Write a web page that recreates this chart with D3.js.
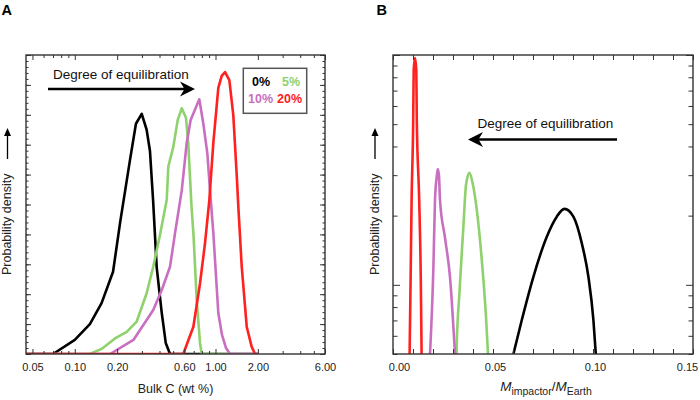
<!DOCTYPE html>
<html><head><meta charset="utf-8">
<script src="https://cdn.jsdelivr.net/npm/d3@7"></script>
<style>body{margin:0;background:#fff} svg{display:block;font-family:"Liberation Sans",Arial,Helvetica,sans-serif}</style>
</head><body><svg id="c" width="700" height="400"></svg>
<script>
// ---------- data ----------
const seriesNames = ["0%", "5%", "10%", "20%"];
const seriesColors = ["#000000", "#8fd16c", "#c96ec0", "#ff2020"];

// Panel A: Bulk C (wt %) vs probability density
const xTicksA = [0.05, 0.10, 0.20, 0.60, 1.00, 2.00, 6.00];
const xTickLabelsA = ["0.05", "0.10", "0.20", "0.60", "1.00", "2.00", "6.00"];
const bulkC_0 = [[0.045,0],[0.070,0],[0.100,0.47],[0.128,1.0],[0.155,1.7],[0.187,2.75],[0.210,4.4],[0.247,6.5],[0.272,7.7],[0.299,8.03],[0.324,7.5],[0.342,6.8],[0.360,5.15],[0.382,2.9],[0.415,1.37],[0.443,0.37],[0.475,0],[2.0,0]];
const bulkC_5 = [[0.045,0],[0.128,0],[0.155,0.17],[0.193,0.52],[0.234,0.74],[0.275,1.08],[0.324,2.03],[0.361,2.92],[0.403,3.98],[0.450,5.15],[0.462,6.27],[0.501,6.92],[0.539,7.83],[0.576,8.22],[0.617,7.89],[0.641,7.01],[0.675,4.95],[0.698,3.97],[0.735,1.8],[0.776,0.37],[0.798,0],[2.0,0]];
const bulkC_10 = [[0.045,0],[0.178,0],[0.261,0.47],[0.361,1.47],[0.415,2.14],[0.475,2.92],[0.516,4.05],[0.576,5.48],[0.624,7.05],[0.666,7.83],[0.767,8.52],[0.819,7.71],[0.875,6.71],[0.914,5.48],[0.965,4.05],[1.047,1.37],[1.112,0.64],[1.188,0.2],[1.268,0],[2.0,0]];
const bulkC_20 = [[0.045,0],[0.590,0],[0.696,0.91],[0.776,2.36],[0.842,3.70],[0.904,5.15],[0.965,7.06],[1.047,8.9],[1.107,9.3],[1.169,9.43],[1.254,9.16],[1.338,7.99],[1.415,5.99],[1.457,4.82],[1.536,2.92],[1.667,0.91],[1.808,0.24],[1.909,0],[2.0,0]];

// Panel B: M_impactor / M_Earth vs probability density (log)
const xTicksB = [0.00, 0.05, 0.10, 0.15];
const mass_0 = [[0.0602,0.5],[0.0644,0.703],[0.0702,1.084],[0.0769,1.62],[0.0819,1.98],[0.0857,2.14],[0.0902,1.98],[0.0944,1.516],[0.0977,1.084],[0.1002,0.703],[0.1014,0.5]];
const mass_5 = [[0.0318,0.5],[0.03185,0.538],[0.0332,0.918],[0.0352,1.79],[0.0365,2.72],[0.0382,3.07],[0.0400,2.72],[0.0419,2.12],[0.0444,1.28],[0.0465,0.726],[0.0475,0.5]];
const mass_10 = [[0.0185,0.5],[0.0202,1.195],[0.0210,2.34],[0.0218,2.92],[0.0224,3.19],[0.0230,2.98],[0.0235,2.34],[0.0260,1.6],[0.0285,1.08],[0.0310,0.5]];
const mass_20 = [[0.0083,0.5],[0.0088,1.05],[0.0093,2.34],[0.0101,5.2],[0.01035,8.6],[0.0110,9.7],[0.01165,8.6],[0.0119,5.2],[0.0131,2.34],[0.0139,1.05],[0.0143,0.5]];

const seriesA = [bulkC_0, bulkC_5, bulkC_10, bulkC_20];
const seriesB = [mass_0, mass_5, mass_10, mass_20];

// ---------- drawing ----------
const svg = d3.select("#c");
const FONT = "Liberation Sans, Arial, Helvetica, sans-serif";
const AX = "#333";

function styleAxis(g, fs) {
  g.select(".domain").remove();
  g.attr("font-family", FONT).attr("font-size", fs || 11);
  g.selectAll(".tick line").attr("stroke", AX).attr("stroke-width", 1);
  g.selectAll(".tick text").attr("fill", "#222");
}

function frame(x0, x1, y0, y1) {
  svg.append("rect").attr("x", x0).attr("y", y0).attr("width", x1 - x0).attr("height", y1 - y0)
    .attr("fill", "none").attr("stroke", AX).attr("stroke-width", 1.4);
}

function bigArrow(x1, x2, y) { // shaft from x1 to tip x2
  const dir = Math.sign(x2 - x1);
  svg.append("line").attr("x1", x1).attr("x2", x2 - dir * 8).attr("y1", y).attr("y2", y)
    .attr("stroke", "#000").attr("stroke-width", 2.6);
  const p = d3.path();
  p.moveTo(x2, y);
  p.lineTo(x2 - dir * 15, y - 7.5);
  p.lineTo(x2 - dir * 10.5, y);
  p.lineTo(x2 - dir * 15, y + 7.5);
  p.closePath();
  svg.append("path").attr("d", p.toString()).attr("fill", "#000");
}

function yTitle(xBase, xArrow) {
  svg.append("text").attr("transform", `translate(${xBase},275) rotate(-90)`)
    .attr("font-family", FONT).attr("font-size", 12.5).attr("fill", "#222")
    .text("Probability density");
  svg.append("line").attr("x1", xArrow).attr("x2", xArrow).attr("y1", 159).attr("y2", 134)
    .attr("stroke", "#000").attr("stroke-width", 1.3);
  svg.append("path").attr("d", `M${xArrow},128 L${xArrow - 3.5},136 L${xArrow + 3.5},136 Z`).attr("fill", "#000");
}

// ===== Panel A =====
const xA = d3.scaleLog().domain([0.045, 6.0]).range([26, 325]);
const yA = d3.scaleLinear().domain([0, 10]).range([354, 55]);

svg.append("defs").append("clipPath").attr("id", "clipA")
  .append("rect").attr("x", 26).attr("y", 55).attr("width", 299).attr("height", 299);
svg.select("defs").append("clipPath").attr("id", "clipB")
  .append("rect").attr("x", 393).attr("y", 55).attr("width", 300).attr("height", 299);

const lineA = d3.line().x(d => xA(d[0])).y(d => yA(d[1]));
const gA = svg.append("g").attr("clip-path", "url(#clipA)");
seriesA.forEach((s, i) => {
  gA.append("path").attr("d", lineA(s)).attr("fill", "none")
    .attr("stroke", seriesColors[i]).attr("stroke-width", 2.6).attr("stroke-linejoin", "round");
});

const minorA = xA.ticks().filter(v => !xTicksA.some(t => Math.abs(t - v) < 1e-9));
svg.append("g").attr("transform", "translate(0,354)")
  .call(d3.axisBottom(xA).tickValues(xTicksA).tickFormat((d, i) => xTickLabelsA[i]).tickSize(-5).tickPadding(9.2))
  .call(g => styleAxis(g, 11));
svg.append("g").attr("transform", "translate(0,354)")
  .call(d3.axisBottom(xA).tickValues(minorA).tickFormat("").tickSize(-3)).call(g => styleAxis(g));
svg.append("g").attr("transform", "translate(0,55)")
  .call(d3.axisTop(xA).tickValues(xTicksA).tickFormat("").tickSize(-5)).call(g => styleAxis(g));
svg.append("g").attr("transform", "translate(0,55)")
  .call(d3.axisTop(xA).tickValues(minorA).tickFormat("").tickSize(-3)).call(g => styleAxis(g));

const majorYA = d3.range(0, 10.001, 1);
const minorYA = d3.range(0, 10.001, 0.2);
[[d3.axisLeft, 26], [d3.axisRight, 325]].forEach(([f, x]) => {
  svg.append("g").attr("transform", `translate(${x},0)`)
    .call(f(yA).tickValues(minorYA).tickFormat("").tickSize(-2.5)).call(g => styleAxis(g));
  svg.append("g").attr("transform", `translate(${x},0)`)
    .call(f(yA).tickValues(majorYA).tickFormat("").tickSize(-5)).call(g => styleAxis(g));
});
frame(26, 325, 55, 354);

svg.append("text").attr("x", 175.5).attr("y", 393).attr("text-anchor", "middle")
  .attr("font-family", FONT).attr("font-size", 12.5).attr("fill", "#222").text("Bulk C (wt %)");
yTitle(10.5, 7.5);

svg.append("text").attr("x", 53).attr("y", 78.5).attr("font-family", FONT).attr("font-size", 13.5)
  .attr("fill", "#111").text("Degree of equilibration");
bigArrow(48, 195, 89);

// legend
svg.append("rect").attr("x", 243.3).attr("y", 68.3).attr("width", 63.4).attr("height", 45)
  .attr("fill", "#fff").attr("stroke", "#555").attr("stroke-width", 1.5);
const legPos = [[252, 86], [282, 86], [248, 103], [277, 103]];
seriesNames.forEach((n, i) => {
  svg.append("text").attr("x", legPos[i][0]).attr("y", legPos[i][1])
    .attr("font-family", FONT).attr("font-size", 12.5).attr("font-weight", "bold")
    .attr("fill", seriesColors[i]).text(n);
});

svg.append("text").attr("x", 1.5).attr("y", 15).attr("font-family", FONT).attr("font-size", 14.5)
  .attr("font-weight", "bold").text("A");

// ===== Panel B =====
const xB = d3.scaleLinear().domain([0, 0.15]).range([393, 693]);
const yB = d3.scaleLog().domain([0.5, 10]).range([354, 55]);

const lineB = d3.line().x(d => xB(d[0])).y(d => yB(d[1])).curve(d3.curveMonotoneX);
const gB = svg.append("g").attr("clip-path", "url(#clipB)");
seriesB.forEach((s, i) => {
  gB.append("path").attr("d", lineB(s)).attr("fill", "none")
    .attr("stroke", seriesColors[i]).attr("stroke-width", 2.6).attr("stroke-linejoin", "round");
});

const minorXB = d3.range(0, 0.1501, 0.01);
svg.append("g").attr("transform", "translate(0,354)")
  .call(d3.axisBottom(xB).tickValues(minorXB).tickFormat("").tickSize(-5)).call(g => styleAxis(g));
svg.append("g").attr("transform", "translate(0,354)")
  .call(d3.axisBottom(xB).tickValues(xTicksB).tickFormat(d3.format(".2f")).tickSize(0).tickPadding(9.2))
  .call(g => {
    styleAxis(g, 11);
    g.selectAll(".tick text").attr("dx", (d, i) => i === 0 ? 6 : (i === xTicksB.length - 1 ? -6 : 2));
  });
svg.append("g").attr("transform", "translate(0,55)")
  .call(d3.axisTop(xB).tickValues(minorXB).tickFormat("").tickSize(-5)).call(g => styleAxis(g));

const majorYB = [1, 10];
const minorYB = yB.ticks().filter(v => v !== 1 && v !== 10);
[[d3.axisLeft, 393], [d3.axisRight, 693]].forEach(([f, x]) => {
  svg.append("g").attr("transform", `translate(${x},0)`)
    .call(f(yB).tickValues(minorYB).tickFormat("").tickSize(-4.5)).call(g => styleAxis(g));
  svg.append("g").attr("transform", `translate(${x},0)`)
    .call(f(yB).tickValues(majorYB).tickFormat("").tickSize(-7)).call(g => styleAxis(g));
});
frame(393, 693, 55, 354);

const tB = svg.append("text").attr("x", 546).attr("y", 391).attr("text-anchor", "middle")
  .attr("font-family", FONT).attr("font-size", 13.5).attr("fill", "#222");
tB.append("tspan").attr("font-style", "italic").text("M");
tB.append("tspan").attr("font-size", 10.5).attr("dy", 4).text("impactor");
tB.append("tspan").attr("dy", -4).text("/");
tB.append("tspan").attr("font-style", "italic").text("M");
tB.append("tspan").attr("font-size", 10.5).attr("dy", 4).text("Earth");

yTitle(379, 375);

svg.append("text").attr("x", 477.5).attr("y", 128).attr("font-family", FONT).attr("font-size", 13.5)
  .attr("fill", "#111").text("Degree of equilibration");
bigArrow(617, 468, 139.5);

svg.append("text").attr("x", 376.5).attr("y", 15).attr("font-family", FONT).attr("font-size", 14.5)
  .attr("font-weight", "bold").text("B");
</script></body></html>
